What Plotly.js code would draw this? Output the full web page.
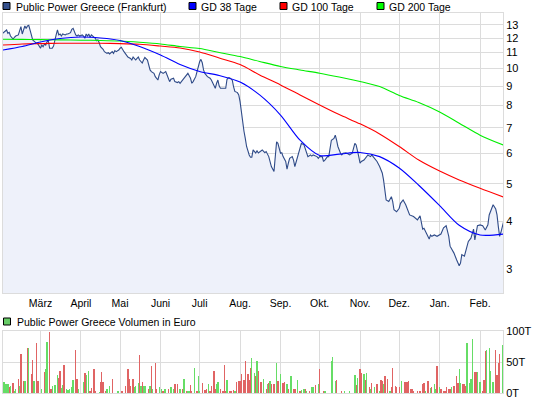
<!DOCTYPE html>
<html>
<head>
<meta charset="utf-8">
<script src="https://cdn.plot.ly/plotly-3.0.1.min.js"></script>
<style>html,body{margin:0;padding:0;background:#fff;}#chart{width:545px;height:398px;}</style>
</head>
<body>
<div id="chart"></div>
<script>
// ---------- DATA ----------
const priceDates = ["2011-01-31","2011-02-03","2011-02-04","2011-02-05","2011-02-06","2011-02-08","2011-02-09","2011-02-10","2011-02-12","2011-02-13","2011-02-14","2011-02-15","2011-02-16","2011-02-17","2011-02-18","2011-02-19","2011-02-20","2011-02-21","2011-02-22","2011-02-23","2011-02-25","2011-02-26","2011-02-27",
"2011-03-01","2011-03-02","2011-03-03","2011-03-04","2011-03-05","2011-03-06","2011-03-07","2011-03-08","2011-03-10","2011-03-11","2011-03-12","2011-03-13","2011-03-14","2011-03-15","2011-03-16","2011-03-17","2011-03-18","2011-03-20","2011-03-21","2011-03-22","2011-03-24","2011-03-25","2011-03-26","2011-03-27","2011-03-28","2011-03-29","2011-03-30","2011-03-31",
"2011-04-02","2011-04-03","2011-04-04","2011-04-05","2011-04-06","2011-04-07","2011-04-08","2011-04-09","2011-04-10","2011-04-12","2011-04-13","2011-04-14","2011-04-15","2011-04-16","2011-04-18","2011-04-19","2011-04-21","2011-04-22","2011-04-23","2011-04-25","2011-04-26","2011-04-27","2011-04-28","2011-04-30",
"2011-05-01","2011-05-02","2011-05-04","2011-05-05","2011-05-06","2011-05-07","2011-05-09","2011-05-10","2011-05-11","2011-05-13","2011-05-14","2011-05-15","2011-05-16","2011-05-18","2011-05-19","2011-05-20","2011-05-22","2011-05-23","2011-05-24","2011-05-25","2011-05-27","2011-05-28","2011-05-30","2011-05-31",
"2011-06-01","2011-06-03","2011-06-05","2011-06-07","2011-06-08","2011-06-09","2011-06-11","2011-06-12","2011-06-14","2011-06-15","2011-06-16","2011-06-17","2011-06-19","2011-06-20","2011-06-21","2011-06-22","2011-06-24","2011-06-25","2011-06-26","2011-06-28","2011-06-29","2011-06-30",
"2011-07-01","2011-07-02","2011-07-03","2011-07-04","2011-07-05","2011-07-07","2011-07-08","2011-07-09","2011-07-10","2011-07-12","2011-07-13","2011-07-14","2011-07-15","2011-07-16","2011-07-17","2011-07-19","2011-07-21","2011-07-22","2011-07-23","2011-07-24","2011-07-26","2011-07-27","2011-07-28","2011-07-30","2011-07-31",
"2011-08-01","2011-08-02","2011-08-03","2011-08-04","2011-08-05","2011-08-06","2011-08-08","2011-08-09","2011-08-10","2011-08-11","2011-08-13","2011-08-14","2011-08-15","2011-08-16","2011-08-18","2011-08-20","2011-08-21","2011-08-23","2011-08-24","2011-08-25","2011-08-27","2011-08-28","2011-08-29","2011-08-30","2011-08-31",
"2011-09-01","2011-09-02","2011-09-03","2011-09-05","2011-09-06","2011-09-07","2011-09-08","2011-09-10","2011-09-11","2011-09-12","2011-09-14","2011-09-15","2011-09-16","2011-09-17","2011-09-19","2011-09-20","2011-09-21","2011-09-22","2011-09-24","2011-09-25","2011-09-26","2011-09-28","2011-09-29","2011-09-30",
"2011-10-01","2011-10-03","2011-10-04","2011-10-05","2011-10-07","2011-10-08","2011-10-09","2011-10-10","2011-10-12","2011-10-13","2011-10-14","2011-10-15","2011-10-17","2011-10-18","2011-10-19","2011-10-21","2011-10-22","2011-10-23","2011-10-24","2011-10-26","2011-10-27","2011-10-28","2011-10-29","2011-10-30","2011-10-31",
"2011-11-01","2011-11-02","2011-11-04","2011-11-05","2011-11-06","2011-11-07","2011-11-09","2011-11-10","2011-11-11","2011-11-13","2011-11-14","2011-11-16","2011-11-18","2011-11-19","2011-11-20","2011-11-21","2011-11-23","2011-11-25","2011-11-26","2011-11-27","2011-11-29",
"2011-12-01","2011-12-02","2011-12-04","2011-12-06","2011-12-07","2011-12-09","2011-12-12","2011-12-13","2011-12-15","2011-12-17","2011-12-18","2011-12-19","2011-12-20","2011-12-22","2011-12-24","2011-12-25","2011-12-26","2011-12-28","2011-12-30",
"2012-01-02","2012-01-04","2012-01-06","2012-01-07","2012-01-08","2012-01-09","2012-01-11","2012-01-12","2012-01-14","2012-01-16","2012-01-17","2012-01-18","2012-01-20","2012-01-21","2012-01-22","2012-01-23","2012-01-25","2012-01-27","2012-01-28","2012-01-29","2012-01-30",
"2012-02-01","2012-02-03","2012-02-05","2012-02-07","2012-02-08","2012-02-10","2012-02-11","2012-02-13","2012-02-14","2012-02-15","2012-02-16","2012-02-17","2012-02-18","2012-02-19"];
const priceValues = [12.35,12.60,12.35,12.42,12.15,11.92,12.06,12.15,12.23,12.47,12.85,12.30,12.60,12.90,12.72,12.90,12.95,12.65,12.23,11.87,11.67,11.63,11.58,
11.29,11.51,11.40,11.58,11.51,11.74,11.81,11.29,11.29,11.44,11.74,12.23,12.60,12.23,12.30,12.15,12.30,12.23,12.30,12.30,12.40,12.65,12.72,12.40,12.23,12.15,12.23,12.15,
12.23,12.15,11.99,12.30,12.15,12.30,12.06,12.23,12.15,11.99,11.81,11.87,11.67,11.40,11.22,11.06,10.95,10.99,10.91,11.06,10.95,11.13,11.06,11.17,
11.29,11.36,11.06,10.91,10.84,10.71,10.62,10.52,10.71,10.52,10.62,10.71,10.52,10.33,10.52,10.68,10.52,10.21,9.91,9.81,9.71,9.52,9.33,9.62,
9.81,9.71,9.81,9.43,9.24,9.37,9.43,9.24,9.19,9.24,9.15,9.24,9.43,9.52,9.62,9.71,9.43,9.15,9.24,9.52,9.81,10.21,
10.41,10.56,10.35,9.91,9.71,9.52,9.48,9.43,9.33,9.06,8.88,9.15,9.33,9.00,8.88,8.88,8.88,9.37,9.46,9.46,9.33,8.97,8.71,8.65,8.53,
8.19,7.72,7.12,6.86,6.57,6.26,5.95,5.87,5.87,6.13,6.02,6.10,6.02,6.06,6.13,6.03,6.07,5.89,5.66,5.55,5.39,5.89,6.44,6.38,6.19,
6.01,6.03,5.89,5.72,5.46,5.66,5.83,5.89,5.77,5.55,5.89,6.07,6.19,6.38,6.32,6.19,6.07,5.89,5.95,5.91,5.95,5.91,5.89,5.83,
5.89,5.89,5.72,5.77,5.89,5.89,6.26,6.50,6.57,6.70,6.50,6.26,6.01,5.95,6.01,6.03,6.01,5.98,5.95,6.01,6.15,6.38,6.32,6.13,5.89,
5.66,5.72,5.77,5.83,5.89,5.95,5.89,5.95,5.89,5.77,5.72,5.55,5.34,5.12,4.82,4.54,4.50,4.63,4.50,4.28,4.23,
4.32,4.45,4.54,4.41,4.32,4.15,4.11,4.09,4.03,4.13,3.99,3.81,3.83,3.72,3.59,3.68,3.65,3.68,3.65,
3.70,3.84,3.89,3.76,3.65,3.44,3.36,3.30,3.17,3.06,3.11,3.27,3.24,3.36,3.44,3.54,3.61,3.81,3.57,3.72,3.89,
3.91,3.89,3.79,3.91,4.15,4.32,4.41,4.30,4.15,3.87,3.65,3.74,3.84,3.98];

const maDates = ["2011-01-31","2011-02-15","2011-03-01","2011-03-16","2011-04-01","2011-04-16","2011-05-01","2011-05-16","2011-06-01","2011-06-16","2011-07-01","2011-07-16","2011-08-01","2011-08-16","2011-09-01","2011-09-16","2011-10-01","2011-10-16","2011-11-01","2011-11-16","2011-12-01","2011-12-16","2012-01-01","2012-01-16","2012-02-01","2012-02-19"];
const gd38  = [11.17,11.41,11.72,11.97,12.08,12.01,11.83,11.41,10.84,10.24,9.82,9.59,9.22,8.53,7.56,6.50,5.93,5.98,6.04,5.89,5.50,4.96,4.39,3.90,3.68,3.70];
const gd100 = [11.51,11.58,11.61,11.63,11.63,11.63,11.61,11.56,11.44,11.31,11.04,10.65,10.24,9.62,9.06,8.53,8.03,7.58,7.17,6.75,6.26,5.77,5.40,5.12,4.87,4.62];
const gd200 = [11.92,11.91,11.89,11.87,11.85,11.83,11.79,11.70,11.58,11.41,11.27,11.01,10.74,10.43,10.12,9.91,9.72,9.50,9.25,8.97,8.50,8.15,7.70,7.20,6.70,6.31];

// Volume in thousand euro (T)
const volUpDates = ["2011-02-01","2011-02-02","2011-02-03","2011-02-04","2011-02-06","2011-02-09","2011-02-10","2011-02-13","2011-02-17","2011-02-20","2011-02-24","2011-03-02","2011-03-05","2011-03-06","2011-03-10","2011-03-12","2011-03-14","2011-03-17","2011-03-18","2011-03-21","2011-03-22","2011-03-23","2011-03-25","2011-03-26","2011-03-30","2011-04-03","2011-04-05","2011-04-07","2011-04-15","2011-04-21","2011-04-23","2011-04-29","2011-04-30","2011-05-12","2011-05-13","2011-05-15","2011-05-17","2011-05-19","2011-05-20","2011-05-24","2011-05-26","2011-05-31","2011-06-02","2011-06-04","2011-06-05","2011-06-09","2011-06-11","2011-06-16","2011-06-19","2011-06-22","2011-06-23","2011-06-27","2011-06-30","2011-07-01","2011-07-08","2011-07-14","2011-07-15","2011-07-22","2011-07-28","2011-08-10","2011-08-12","2011-08-14","2011-08-19","2011-08-22","2011-08-24","2011-08-29","2011-09-01","2011-09-06","2011-09-09","2011-09-14","2011-09-17","2011-09-19","2011-09-21","2011-09-25","2011-09-26","2011-09-30","2011-10-05","2011-10-10","2011-10-11","2011-10-13","2011-10-20","2011-10-24","2011-10-28","2011-10-30","2011-11-04","2011-11-06","2011-11-09","2011-11-12","2011-11-16","2011-11-19","2011-11-24","2011-12-03","2011-12-21","2011-12-25","2011-12-28","2011-12-29","2012-01-01","2012-01-10","2012-01-16","2012-01-17","2012-01-22","2012-01-24","2012-01-25","2012-01-26","2012-01-30","2012-02-01","2012-02-06","2012-02-08","2012-02-09","2012-02-11","2012-02-18"];
const volUpValues = [17,15,14,14,11,3,6,11,19,73,19,6,38,83,11,13,29,8,13,6,5,6,9,21,6,17,29,35,2,7,11,3,4,9,11,16,12,11,12,11,7,10,7,7,6,9,6,7,22,4,4,41,28,4,15,15,17,21,4,57,33,51,23,14,20,49,31,15,27,21,5,7,4,10,10,15,4,52,58,19,3,4,29,25,31,33,6,10,3,14,3,20,4,8,15,6,10,10,38,16,80,16,23,87,34,17,70,72,36,18,78];
const volDownDates = ["2011-02-05","2011-02-08","2011-02-12","2011-02-14","2011-02-16","2011-02-19","2011-02-22","2011-02-23","2011-02-26","2011-02-27","2011-03-04","2011-03-08","2011-03-09","2011-03-15","2011-03-16","2011-03-19","2011-03-28","2011-03-29","2011-04-04","2011-04-08","2011-04-09","2011-04-11","2011-04-12","2011-04-16","2011-04-17","2011-04-18","2011-04-20","2011-04-25","2011-05-02","2011-05-03","2011-05-05","2011-05-07","2011-05-08","2011-05-09","2011-05-11","2011-05-16","2011-05-18","2011-05-23","2011-05-25","2011-05-28","2011-05-29","2011-06-03","2011-06-07","2011-06-12","2011-06-14","2011-06-18","2011-06-21","2011-06-24","2011-06-25","2011-06-29","2011-07-03","2011-07-05","2011-07-06","2011-07-09","2011-07-10","2011-07-12","2011-07-13","2011-07-17","2011-07-19","2011-07-20","2011-07-21","2011-07-24","2011-07-25","2011-07-27","2011-07-29","2011-07-31","2011-08-01","2011-08-02","2011-08-04","2011-08-05","2011-08-07","2011-08-08","2011-08-09","2011-08-13","2011-08-15","2011-08-17","2011-08-21","2011-08-23","2011-08-25","2011-08-27","2011-08-30","2011-09-03","2011-09-04","2011-09-07","2011-09-11","2011-09-12","2011-09-16","2011-09-20","2011-09-23","2011-09-28","2011-10-01","2011-10-04","2011-10-14","2011-10-18","2011-10-29","2011-11-01","2011-11-02","2011-11-05","2011-11-08","2011-11-10","2011-11-14","2011-11-17","2011-11-18","2011-11-20","2011-11-22","2011-11-25","2011-11-26","2011-11-28","2011-11-29","2011-12-01","2011-12-05","2011-12-06","2011-12-07","2011-12-08","2011-12-10","2011-12-11","2011-12-12","2011-12-15","2011-12-17","2011-12-19","2011-12-20","2011-12-23","2011-12-26","2011-12-30","2012-01-02","2012-01-04","2012-01-05","2012-01-06","2012-01-08","2012-01-09","2012-01-12","2012-01-14","2012-01-15","2012-01-19","2012-01-20","2012-01-21","2012-01-28","2012-01-29","2012-02-03","2012-02-04","2012-02-05","2012-02-13","2012-02-14","2012-02-15","2012-02-16"];
const volDownValues = [10,16,23,63,20,72,31,53,80,20,34,99,6,24,35,45,70,23,33,4,8,38,4,18,34,17,4,22,4,4,11,38,22,12,23,62,17,7,43,48,7,4,6,15,14,6,3,13,3,3,16,5,7,4,11,36,6,6,4,45,4,4,4,5,17,20,19,30,21,51,30,21,41,28,35,18,7,16,15,15,19,16,17,7,7,7,4,6,4,13,38,3,21,3,13,38,33,21,10,16,15,21,19,28,23,10,41,11,10,10,17,17,17,20,7,7,4,4,3,15,16,20,10,43,7,4,4,9,6,7,11,27,16,15,14,12,34,34,4,21,68,70,29,48,63];

const monthTicks = ["2011-03-01","2011-04-01","2011-05-01","2011-06-01","2011-07-01","2011-08-01","2011-09-01","2011-10-01","2011-11-01","2011-12-01","2012-01-01","2012-02-01"];
const monthLabels = ["März","April","Mai","Juni","Juli","Aug.","Sep.","Okt.","Nov.","Dez.","Jan.","Feb."];
const priceTicks = [3,4,5,6,7,8,9,10,11,12,13];
const volTicks = [0,50,100];
const volTickLabels = ["0T","50T","100T"];

// ---------- CHART ----------
const FONT = "Liberation Sans, Arial, sans-serif";
const GRID = "#dcdcdc";
const xRange = ["2011-01-31 06:00","2012-02-18 14:00"];
const dayMs = 86400000;

const traces = [
  {x: priceDates, y: priceValues, type: "scatter", mode: "lines", xaxis: "x", yaxis: "y",
   line: {color: "#2f4b88", width: 1.1}, fill: "tozeroy", fillcolor: "#eef1fa", hoverinfo: "skip"},
  {x: maDates, y: gd200, type: "scatter", mode: "lines", line: {color: "#00ee00", width: 1.1, shape: "spline", smoothing: 0.8}, xaxis: "x", yaxis: "y"},
  {x: maDates, y: gd100, type: "scatter", mode: "lines", line: {color: "#ff0000", width: 1.1, shape: "spline", smoothing: 0.8}, xaxis: "x", yaxis: "y"},
  {x: maDates, y: gd38, type: "scatter", mode: "lines", line: {color: "#0000ff", width: 1.1, shape: "spline", smoothing: 0.8}, xaxis: "x", yaxis: "y"},
  {x: volUpDates, y: volUpValues, type: "bar", xaxis: "x2", yaxis: "y2", width: dayMs,
   marker: {color: "#66dd66", line: {width: 0}}},
  {x: volDownDates, y: volDownValues, type: "bar", xaxis: "x2", yaxis: "y2", width: dayMs,
   marker: {color: "#e06464", line: {width: 0}}}
];

// pixel helpers for legend placement (plot area: x 3..503, y 13..393)
const px = v => (v - 3) / 500;
const py = v => (393 - v) / 380;

function sq(x0, y0, color) {
  return {type: "rect", xref: "paper", yref: "paper", x0: px(x0), x1: px(x0 + 7), y0: py(y0 + 7), y1: py(y0),
          fillcolor: color, line: {color: "#000000", width: 1}};
}
function lbl(x, y, text) {
  return {xref: "paper", yref: "paper", x: px(x), y: py(y), xanchor: "left", yanchor: "middle",
          text: text, showarrow: false, font: {family: FONT, size: 10.5, color: "#000"}, borderpad: 0};
}

const layout = {
  width: 545, height: 398,
  margin: {l: 3, r: 42, t: 13, b: 5},
  paper_bgcolor: "#ffffff", plot_bgcolor: "#ffffff",
  showlegend: false,
  bargap: 0,
  font: {family: FONT, size: 11, color: "#000"},
  xaxis: {type: "date", range: xRange, anchor: "y", tickvals: monthTicks, ticktext: monthLabels,
          showgrid: true, gridcolor: GRID, gridwidth: 1, showline: true, linecolor: GRID, mirror: true,
          ticks: "", tickfont: {family: FONT, size: 10.5, color: "#000"}, zeroline: false},
  yaxis: {type: "log", domain: [100/380, 1], range: [0.4145, 1.1446], side: "right", anchor: "x",
          tickvals: priceTicks, ticktext: priceTicks.map(String), showgrid: true, gridcolor: GRID,
          showline: true, linecolor: GRID, mirror: true, ticks: "", zeroline: false,
          tickfont: {family: FONT, size: 11, color: "#000"}},
  xaxis2: {type: "date", range: xRange, anchor: "y2", matches: "x", tickvals: monthTicks, showticklabels: false,
           showgrid: true, gridcolor: GRID, showline: true, linecolor: GRID, mirror: true, ticks: "", zeroline: false},
  yaxis2: {domain: [0, 62/380], range: [0, 100], side: "right", anchor: "x2", tickvals: volTicks, ticktext: volTickLabels,
           showgrid: true, gridcolor: GRID, showline: true, linecolor: GRID, mirror: true, ticks: "", zeroline: false,
           ticklabeloverflow: "allow", tickfont: {family: FONT, size: 11, color: "#000"}},
  shapes: [
    sq(3, 2.5, "#34508c"), sq(189, 2.5, "#0000ff"), sq(280, 2.5, "#ff0000"), sq(377, 2.5, "#00ff00"),
    sq(3.5, 318, "#66cc66")
  ],
  annotations: [
    lbl(15, 6.5, "Public Power Greece (Frankfurt)"),
    lbl(200, 6.5, "GD 38 Tage"),
    lbl(291, 6.5, "GD 100 Tage"),
    lbl(388, 6.5, "GD 200 Tage"),
    lbl(15.5, 321.5, "Public Power Greece Volumen in Euro")
  ]
};

Plotly.newPlot("chart", traces, layout, {displayModeBar: false, staticPlot: true});
</script>
</body>
</html>
